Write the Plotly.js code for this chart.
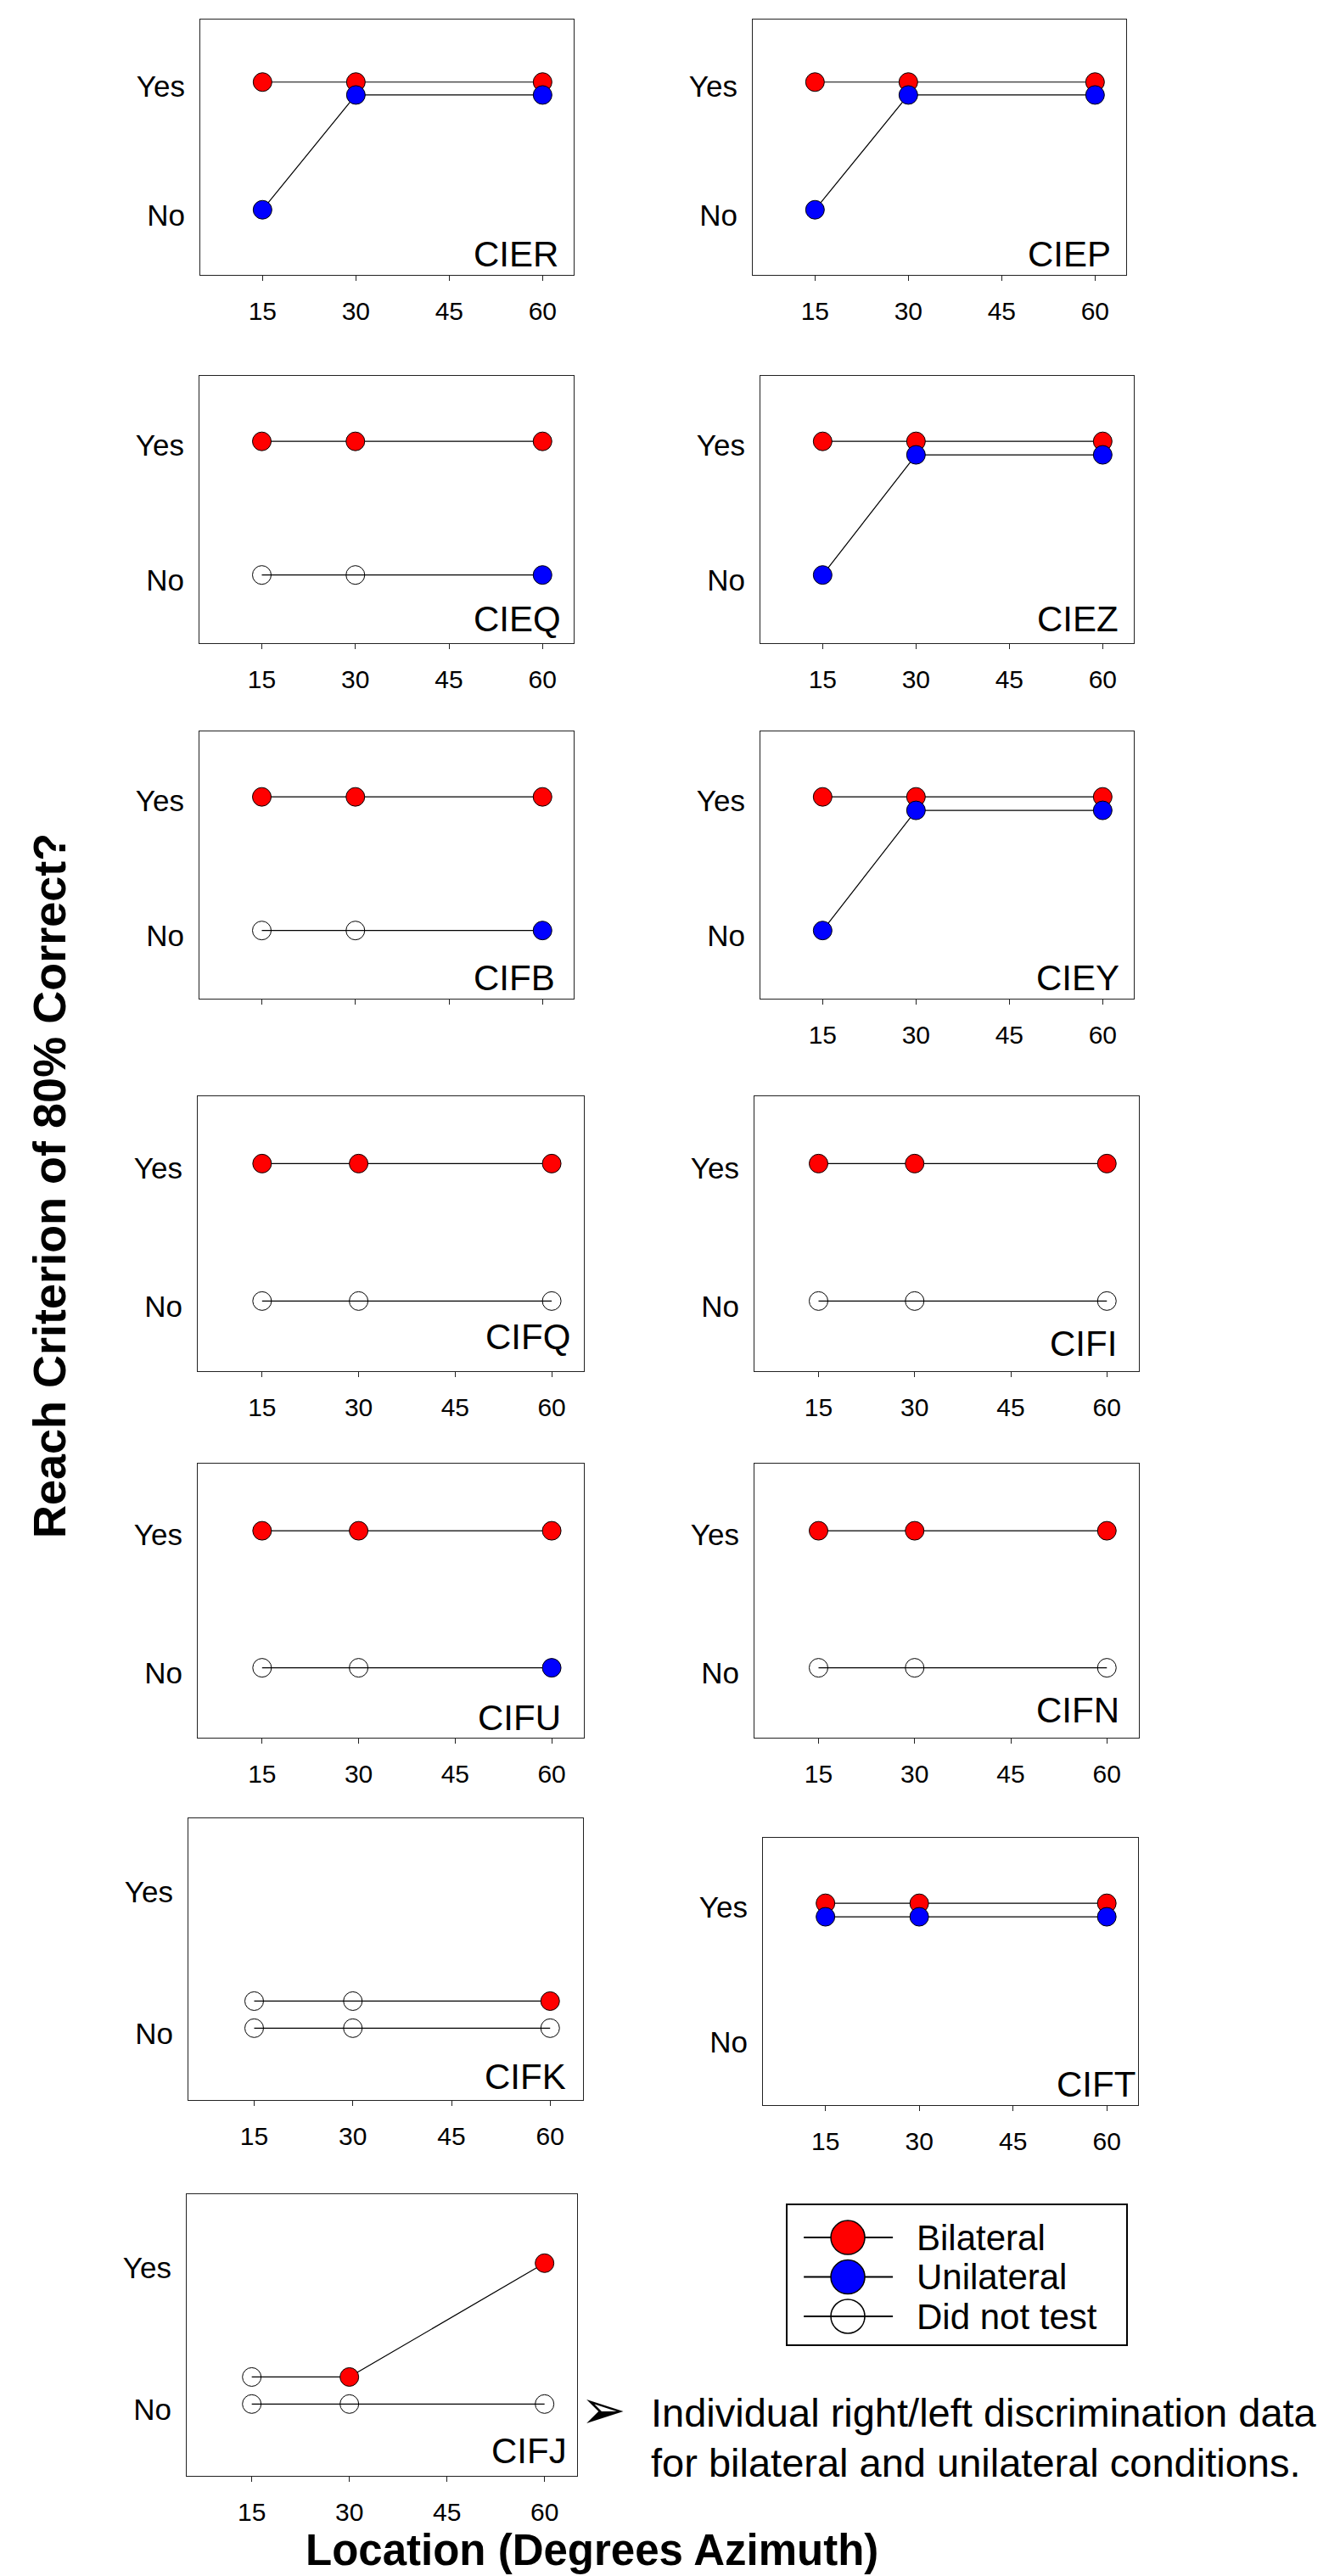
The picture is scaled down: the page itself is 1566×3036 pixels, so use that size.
<!DOCTYPE html>
<html>
<head>
<meta charset="utf-8">
<script src="https://cdn.plot.ly/plotly-3.0.1.min.js"></script>
<style>
html,body{margin:0;padding:0;background:#fff;}
#chart{width:1566px;height:3036px;}
</style>
</head>
<body>
<div id="chart"></div>
<script>
// ---------------- DATA ----------------
const subjects = ['CIER','CIEP','CIEQ','CIEZ','CIFB','CIEY','CIFQ','CIFI','CIFU','CIFN','CIFK','CIFT','CIFJ'];
const azimuth = [15, 30, 60];
const xTickVals = [15, 30, 45, 60];
const xTickText = ['15', '30', '45', '60'];
const yTickVals = [0, 1];
const yTickText = ['No', 'Yes'];

// plotted level of the bilateral series (Yes ≈ 1.03, No ≈ 0.23)
const bilateralY = [
  [1.03, 1.03, 1.03], // CIER
  [1.03, 1.03, 1.03], // CIEP
  [1.03, 1.03, 1.03], // CIEQ
  [1.03, 1.03, 1.03], // CIEZ
  [1.03, 1.03, 1.03], // CIFB
  [1.03, 1.03, 1.03], // CIEY
  [1.03, 1.03, 1.03], // CIFQ
  [1.03, 1.03, 1.03], // CIFI
  [1.03, 1.03, 1.03], // CIFU
  [1.03, 1.03, 1.03], // CIFN
  [0.23, 0.23, 0.23], // CIFK
  [1.03, 1.03, 1.03], // CIFT
  [0.23, 0.23, 1.03]  // CIFJ
];
// 1 = bilateral tested, 0 = did not test
const bilateralTested = [
  [1,1,1],[1,1,1],[1,1,1],[1,1,1],[1,1,1],[1,1,1],[1,1,1],
  [1,1,1],[1,1,1],[1,1,1],[0,0,1],[1,1,1],[0,1,1]
];
// plotted level of the unilateral series (Yes ≈ 0.93, No ≈ 0.04)
const unilateralY = [
  [0.04, 0.93, 0.93], // CIER
  [0.04, 0.93, 0.93], // CIEP
  [0.04, 0.04, 0.04], // CIEQ
  [0.04, 0.93, 0.93], // CIEZ
  [0.04, 0.04, 0.04], // CIFB
  [0.04, 0.93, 0.93], // CIEY
  [0.04, 0.04, 0.04], // CIFQ
  [0.04, 0.04, 0.04], // CIFI
  [0.04, 0.04, 0.04], // CIFU
  [0.04, 0.04, 0.04], // CIFN
  [0.04, 0.04, 0.04], // CIFK
  [0.93, 0.93, 0.93], // CIFT
  [0.04, 0.04, 0.04]  // CIFJ
];
// 1 = unilateral tested, 0 = did not test
const unilateralTested = [
  [1,1,1],[1,1,1],[0,0,1],[1,1,1],[0,0,1],[1,1,1],[0,0,0],
  [0,0,0],[0,0,1],[0,0,0],[0,0,0],[1,1,1],[0,0,0]
];
const legendLabels = ['Bilateral', 'Unilateral', 'Did not test'];
const yTitle = 'Reach Criterion of 80% Correct?';
const xTitle = 'Location (Degrees Azimuth)';
const noteLines = ['Individual right/left discrimination data', 'for bilateral and unilateral conditions.'];
const noteBullet = '\u27A2';

// ---------------- LAYOUT GEOMETRY (pixels) ----------------
const W = 1566, H = 3036;
const boxLeft   = [236, 887, 235, 896, 235, 896, 233, 889, 233, 889, 222, 899, 220];
const boxRight  = [676,1327, 676,1336, 676,1336, 688,1342, 688,1342, 687,1341, 680];
const boxTop    = [ 23,  23, 443, 443, 862, 862,1292,1292,1725,1725,2143,2166,2586];
const boxBottom = [324, 324, 758, 758,1177,1177,1616,1616,2048,2048,2475,2481,2918];
const labelGapRight = [16,16,13,16,20,15,14,24,25,21,18,1,10];
const labelAboveBottom = [25,25,29,29,25,25,40,32,24,33,28,25,30];
const showXLabels = [1,1,1,1,0,1,1,1,1,1,1,1,1];

const FONT = 'Liberation Sans, Arial, Helvetica, sans-serif';
const RED = '#ff0000', BLUE = '#0000ff', NONE = 'rgba(0,0,0,0)';

const px2x = p => p / W;
const px2y = p => 1 - p / H;

const traces = [];
const layout = {
  width: W, height: H,
  margin: {l:0, r:0, t:0, b:0},
  paper_bgcolor: '#ffffff',
  plot_bgcolor: 'rgba(0,0,0,0)',
  showlegend: false,
  font: {family: FONT, color: '#000'},
  annotations: []
};

subjects.forEach((name, i) => {
  const k = i + 1;
  const sfx = k === 1 ? '' : String(k);
  const xa = 'x' + sfx, ya = 'y' + sfx;

  traces.push({
    x: azimuth, y: bilateralY[i], xaxis: xa, yaxis: ya,
    type: 'scatter', mode: 'lines+markers', name: 'Bilateral',
    line: {color: '#000', width: 1.2},
    marker: {size: 22, color: bilateralTested[i].map(t => t ? RED : NONE),
             line: {color: '#000', width: 1}},
    hoverinfo: 'skip', cliponaxis: false
  });
  traces.push({
    x: azimuth, y: unilateralY[i], xaxis: xa, yaxis: ya,
    type: 'scatter', mode: 'lines+markers', name: 'Unilateral',
    line: {color: '#000', width: 1.2},
    marker: {size: 22, color: unilateralTested[i].map(t => t ? BLUE : NONE),
             line: {color: '#000', width: 1}},
    hoverinfo: 'skip', cliponaxis: false
  });

  layout['xaxis' + sfx] = {
    domain: [px2x(boxLeft[i]), px2x(boxRight[i])],
    anchor: ya, range: [5, 65],
    tickmode: 'array', tickvals: xTickVals, ticktext: xTickText,
    showticklabels: !!showXLabels[i],
    showline: true, mirror: true, linecolor: '#222', linewidth: 1.1,
    ticks: 'outside', ticklen: 6, tickwidth: 1, tickcolor: '#222',
    ticklabelstandoff: 10,
    tickfont: {family: FONT, size: 30, color: '#000'},
    showgrid: false, zeroline: false, fixedrange: true
  };
  layout['yaxis' + sfx] = {
    domain: [px2y(boxBottom[i]), px2y(boxTop[i])],
    anchor: xa, range: [-0.465, 1.515],
    tickmode: 'array', tickvals: yTickVals, ticktext: yTickText,
    showline: true, mirror: true, linecolor: '#222', linewidth: 1.1,
    ticks: '', ticklabelstandoff: 10,
    tickfont: {family: FONT, size: 35, color: '#000'},
    showgrid: false, zeroline: false, fixedrange: true
  };

  const wpx = boxRight[i] - boxLeft[i];
  const hpx = boxBottom[i] - boxTop[i];
  layout.annotations.push({
    text: name, showarrow: false,
    xref: xa + ' domain', yref: ya + ' domain',
    x: 1 - labelGapRight[i] / wpx, y: labelAboveBottom[i] / hpx,
    xanchor: 'right', yanchor: 'middle',
    font: {family: FONT, size: 42, color: '#000'}
  });
});

// ---------------- LEGEND (drawn in its own small axes) ----------------
const LG = subjects.length + 1;
const lgx = 'x' + LG, lgy = 'y' + LG;
const legendColors = [RED, BLUE, NONE];
legendLabels.forEach((lab, j) => {
  traces.push({
    x: [0.048, 0.178, 0.311], y: [j, j, j], xaxis: lgx, yaxis: lgy,
    type: 'scatter', mode: 'lines+markers', name: lab,
    line: {color: '#000', width: 2},
    marker: {size: 40, color: legendColors[j], opacity: [0, 1, 0],
             line: {color: '#000', width: 1.5}},
    hoverinfo: 'skip', cliponaxis: false
  });
  layout.annotations.push({
    text: lab, showarrow: false, xref: lgx, yref: lgy,
    x: 0.376, y: j, xanchor: 'left', yanchor: 'middle',
    font: {family: FONT, size: 42, color: '#000'}
  });
});
layout['xaxis' + LG] = {
  domain: [px2x(928), px2x(1327)], anchor: lgy, range: [0, 1],
  showline: true, mirror: true, linecolor: '#000', linewidth: 2,
  showticklabels: false, ticks: '', showgrid: false, zeroline: false, fixedrange: true
};
layout['yaxis' + LG] = {
  domain: [px2y(2763), px2y(2599)], anchor: lgx, range: [2.71, -0.82],
  showline: true, mirror: true, linecolor: '#000', linewidth: 2,
  showticklabels: false, ticks: '', showgrid: false, zeroline: false, fixedrange: true
};

// ---------------- TITLES & NOTE ----------------
layout.annotations.push({
  text: '<b>' + yTitle + '</b>', showarrow: false, textangle: -90,
  xref: 'paper', yref: 'paper', x: px2x(58), y: px2y(1398),
  xanchor: 'center', yanchor: 'middle',
  font: {family: FONT, size: 54, color: '#000'}
});
layout.annotations.push({
  text: '<b>' + xTitle + '</b>', showarrow: false,
  xref: 'paper', yref: 'paper', x: px2x(697), y: px2y(3005),
  xanchor: 'center', yanchor: 'middle', borderpad: 0,
  font: {family: FONT, size: 51, color: '#000'}
});
layout.annotations.push({
  text: noteBullet, showarrow: false,
  xref: 'paper', yref: 'paper', x: px2x(711), y: px2y(2840),
  xanchor: 'center', yanchor: 'middle',
  font: {family: 'DejaVu Sans, sans-serif', size: 64, color: '#000'}
});
noteLines.forEach((line, j) => {
  layout.annotations.push({
    text: line, showarrow: false,
    xref: 'paper', yref: 'paper', x: px2x(765), y: px2y(2843 + j * 59),
    xanchor: 'left', yanchor: 'middle',
    font: {family: FONT, size: 47, color: '#000'}
  });
});

Plotly.newPlot('chart', traces, layout, {displayModeBar: false, staticPlot: true});
</script>
</body>
</html>
